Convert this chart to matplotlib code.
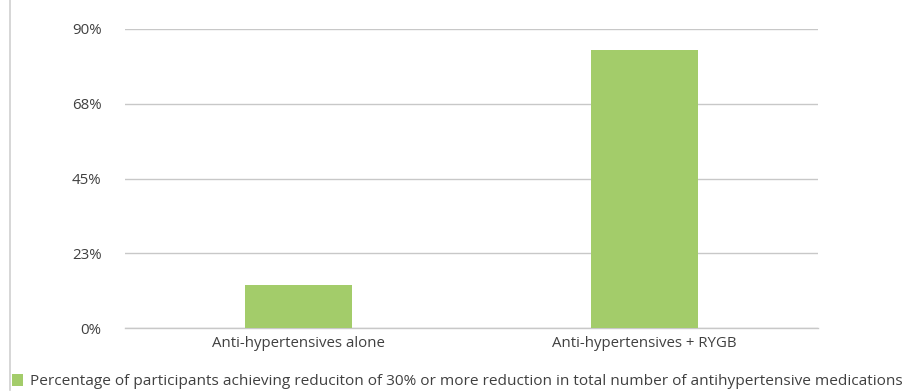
import matplotlib.pyplot as plt
from matplotlib.lines import Line2D
from matplotlib.patches import Patch

categories = ["Anti-hypertensives alone", "Anti-hypertensives + RYGB"]
values = [12.9, 83.7]
ticks = [0, 22.5, 45, 67.5, 90]
tick_labels = ["0%", "23%", "45%", "68%", "90%"]
legend_label = ("Percentage of participants achieving reduciton of 30% or more "
                "reduction in total number of antihypertensive medications")

bar_color = "#a3cc6a"
text_color = "#404040"
grid_color = "#c8c8c8"

plt.rcParams['font.family'] = ['Open Sans', 'DejaVu Sans']

fig = plt.figure(figsize=(9.10, 3.92), dpi=100)
ax = fig.add_axes([125 / 910, 1 - 328 / 392, 693 / 910, (328 - 29) / 392])

x = range(len(categories))
ax.bar(x, values, width=0.31, color=bar_color, zorder=3)

ax.set_xlim(-0.5, 1.5)
ax.set_ylim(0, 90)
ax.set_yticks(ticks)
ax.set_yticklabels(tick_labels)
ax.set_xticks(list(x))
ax.set_xticklabels(categories)
ax.yaxis.grid(True, color=grid_color, linewidth=1.0, zorder=0)
ax.tick_params(axis='both', length=0, labelsize=10.8, labelcolor=text_color)
ax.tick_params(axis='y', pad=17)
ax.tick_params(axis='x', pad=6)
for side in ['top', 'right', 'left']:
    ax.spines[side].set_visible(False)
ax.spines['bottom'].set_color(grid_color)
ax.spines['bottom'].set_linewidth(1.0)

# legend along the bottom edge
handle = Patch(facecolor=bar_color, edgecolor='none')
fig.legend([handle], [legend_label], loc='lower left',
           bbox_to_anchor=(4 / 910, -0.012), frameon=False,
           fontsize=11.1, labelcolor=text_color, handlelength=0.75,
           handleheight=0.8, handletextpad=0.45, borderaxespad=0.1)

# thin frame at the left edge
fig.add_artist(Line2D([10 / 910, 10 / 910], [0.005, 1], color="#d0d0d0",
                      linewidth=1.2, transform=fig.transFigure))

fig.savefig("out.png", dpi=100, facecolor='white')
